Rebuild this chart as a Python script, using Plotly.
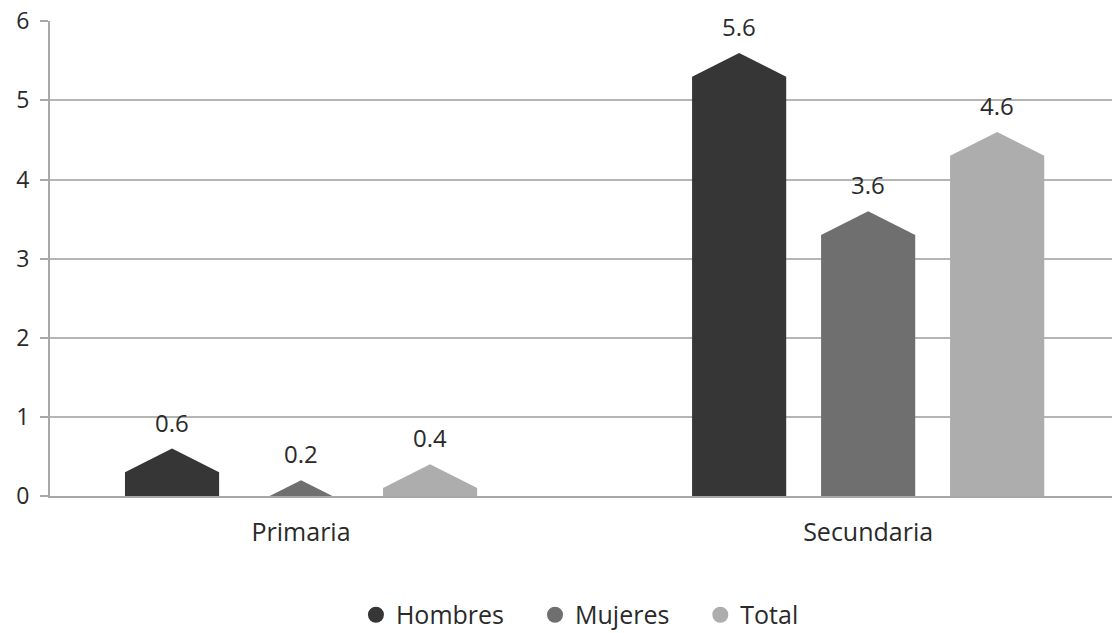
import plotly.graph_objects as go

categories = ["Primaria", "Secundaria"]
series_names = ["Hombres", "Mujeres", "Total"]
hombres = [0.6, 5.6]
mujeres = [0.2, 3.6]
total = [0.4, 4.6]
y_ticks = [0, 1, 2, 3, 4, 5, 6]

values = [hombres, mujeres, total]
colors = ["#363636", "#6f6f6f", "#adadad"]
offsets = [-0.2275, 0.0, 0.2275]
half_w = 0.083
peak = 0.3
FONT = "Open Sans"
TXT = "#2a2a2a"
PAD = "\u00a0" * 4

def pentagon(xc, v):
    xl, xr = xc - half_w, xc + half_w
    sh = v - peak
    if sh >= 0:
        xs = [xl, xl, xc, xr, xr, xl]
        ys = [0, sh, v, sh, 0, 0]
    else:
        f = v / peak
        xs = [xc - half_w * f, xc, xc + half_w * f, xc - half_w * f]
        ys = [0, v, 0, 0]
    return xs, ys

fig = go.Figure()
annotations = []
for s, (name, vals, col, off) in enumerate(zip(series_names, values, colors, offsets)):
    for i, v in enumerate(vals):
        xs, ys = pentagon(i + off, v)
        fig.add_trace(go.Scatter(x=xs, y=ys, fill="toself", fillcolor=col,
                                 line=dict(color=col, width=0), mode="lines",
                                 showlegend=False, hoverinfo="skip"))
        annotations.append(dict(x=i + off, y=v, text=f"{v}", showarrow=False,
                                yanchor="bottom", yshift=8,
                                font=dict(family=FONT, size=24, color=TXT)))
    legend_name = name + (PAD if s < len(series_names) - 1 else "")
    fig.add_trace(go.Scatter(x=[None], y=[None], mode="markers", name=legend_name,
                             marker=dict(symbol="circle", size=17, color=col)))

fig.update_layout(
    width=1112, height=633,
    margin=dict(l=50, r=0, t=21, b=137, autoexpand=False),
    paper_bgcolor="white", plot_bgcolor="white",
    font=dict(family=FONT, size=24, color=TXT),
    annotations=annotations,
    showlegend=True,
    legend=dict(orientation="h", x=0.499, xanchor="center", y=-0.2505, yanchor="middle",
                font=dict(family=FONT, size=25, color=TXT), itemwidth=30,
                tracegroupgap=0),
    xaxis=dict(range=[-0.4427, 1.430], tickvals=[0, 1], ticktext=categories,
               showgrid=False, zeroline=False, showline=True, linecolor="#a8a8a8",
               linewidth=2, ticks="", ticklabelstandoff=13, automargin=False,
               tickfont=dict(family=FONT, size=25, color=TXT), fixedrange=True),
    yaxis=dict(range=[0, 6.004], tickvals=y_ticks, showgrid=True, gridcolor="#b5b5b5",
               gridwidth=2, zeroline=False, showline=True, linecolor="#a8a8a8",
               linewidth=2, ticks="outside", ticklen=8, tickcolor="#a8a8a8",
               tickwidth=2, ticklabelstandoff=6, automargin=False,
               ticklabeloverflow="allow",
               tickfont=dict(family=FONT, size=23, color=TXT), fixedrange=True),
)

fig.write_html("out.html",
               config={"displayModeBar": False, "staticPlot": True},
               post_script="document.body.style.margin='0px';document.body.style.overflow='hidden';")
